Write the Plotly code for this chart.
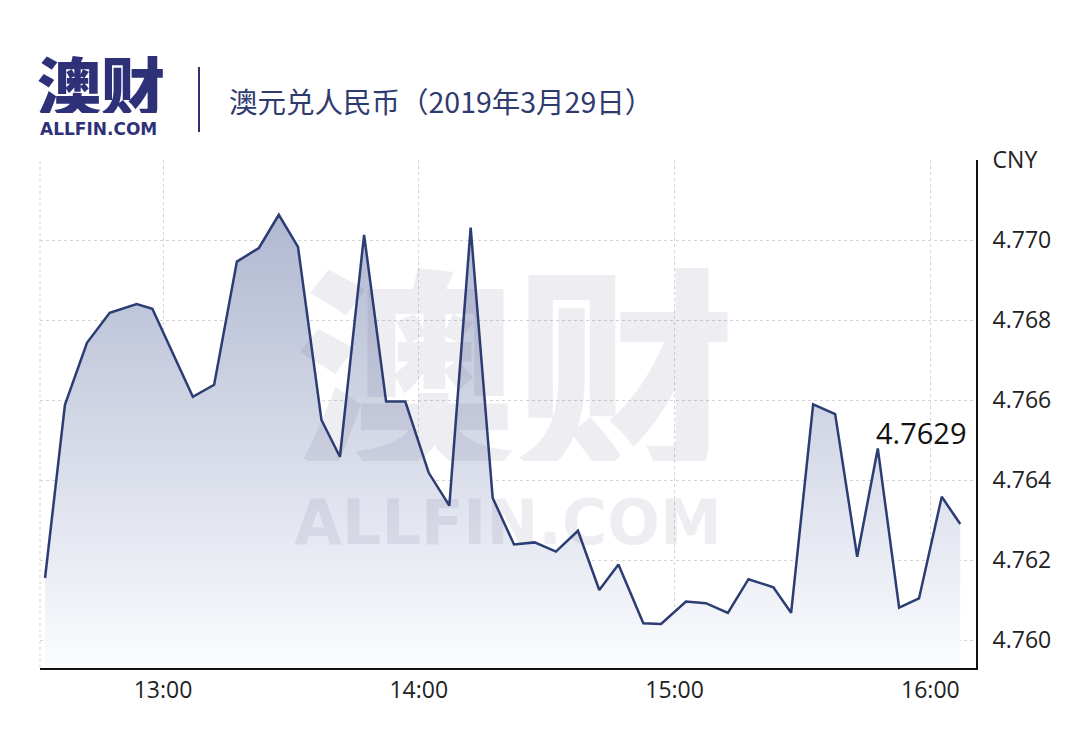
import plotly.graph_objects as go

day = "2019-03-29 "
times = ["12:32:20", "12:37:00", "12:42:10", "12:47:30", "12:53:50", "12:57:30",
         "13:07:00", "13:12:00", "13:17:20", "13:22:30", "13:27:10", "13:31:40",
         "13:37:10", "13:41:30", "13:47:10", "13:52:20", "13:56:50", "14:02:20",
         "14:07:10", "14:12:10", "14:17:20", "14:22:20", "14:27:10", "14:32:10",
         "14:37:20", "14:42:20", "14:46:50", "14:52:40", "14:56:50", "15:02:40",
         "15:07:20", "15:12:30", "15:17:20", "15:23:10", "15:27:20", "15:32:30",
         "15:37:40", "15:42:50", "15:47:40", "15:52:40", "15:57:20", "16:02:40",
         "16:07:00"]
rates = [4.76155, 4.76588, 4.76743, 4.76818, 4.76840, 4.76828,
         4.76608, 4.76638, 4.76946, 4.76980, 4.77063, 4.76983,
         4.76550, 4.76458, 4.77013, 4.76596, 4.76596, 4.76418,
         4.76336, 4.77031, 4.76355, 4.76239, 4.76244, 4.76221,
         4.76273, 4.76125, 4.76189, 4.76042, 4.76040, 4.76096,
         4.76092, 4.76068, 4.76152, 4.76132, 4.76068, 4.76589,
         4.76565, 4.76208, 4.76479, 4.76081, 4.76104, 4.76358,
         4.76290]
x_tick_vals = ["13:00:00", "14:00:00", "15:00:00", "16:00:00"]
x_tick_text = ["13:00", "14:00", "15:00", "16:00"]
y_tick_vals = [4.760, 4.762, 4.764, 4.766, 4.768, 4.770, 4.772]
y_tick_text = ["4.760", "4.762", "4.764", "4.766", "4.768", "4.770", "CNY"]
x_range = ["12:31:09", "16:10:42"]
y_range = [4.7593, 4.7720]
last_label = "4.7629"
title_text = "澳元兑人民币（2019年3月29日）"

x = [day + t for t in times]

fig = go.Figure()
fig.add_trace(go.Scatter(
    x=x, y=rates, mode="lines",
    line=dict(color="#2b3d72", width=2.5),
    fill="tozeroy",
    fillgradient=dict(type="vertical",
                      colorscale=[[0, "rgb(251,252,254)"], [1, "rgb(176,184,209)"]],
                      start=y_range[0], stop=max(rates)),
    hoverinfo="skip", showlegend=False,
))

font_lat = "Open Sans, Noto Sans, sans-serif"
font_cjk = "Noto Sans CJK SC, sans-serif"

fig.update_layout(
    width=1080, height=743,
    margin=dict(l=40, r=104, t=160, b=75),
    paper_bgcolor="white", plot_bgcolor="white",
    xaxis=dict(
        range=[day + x_range[0], day + x_range[1]],
        tickvals=[day + t for t in x_tick_vals], ticktext=x_tick_text,
        showgrid=True, gridcolor="#d4d4d4", griddash="dot", gridwidth=1,
        showline=True, linecolor="#111111", linewidth=2,
        ticks="", tickfont=dict(family=font_lat, size=23, color="#222222"),
        zeroline=False, fixedrange=True,
    ),
    yaxis=dict(
        range=y_range, side="right",
        tickvals=y_tick_vals, ticktext=y_tick_text,
        showgrid=True, gridcolor="#d4d4d4", griddash="dot", gridwidth=1,
        showline=True, linecolor="#111111", linewidth=2,
        ticks="", ticklabelstandoff=10,
        tickfont=dict(family=font_lat, size=23, color="#222222"),
        zeroline=False, fixedrange=True,
    ),
)

# left dotted border grid line
fig.add_shape(type="line", xref="paper", yref="paper", x0=0, x1=0, y0=0, y1=1,
              line=dict(color="#d4d4d4", width=1, dash="dot"), layer="below")

# watermark
fig.add_annotation(text="澳财", xref="paper", yref="paper", x=0.507, y=0.605,
                   showarrow=False, xanchor="center", yanchor="middle", height=200,
                   font=dict(family=font_cjk, size=220, color="rgba(60,50,100,0.085)", weight=900))
fig.add_annotation(text="ALLFIN.COM", xref="paper", yref="paper", x=0.50, y=0.287,
                   showarrow=False, xanchor="center", yanchor="middle", height=50,
                   font=dict(family="DejaVu Sans, sans-serif", size=62,
                             color="rgba(60,50,100,0.085)", weight="bold"))

# last value label
fig.add_annotation(text=last_label, x=x[-1], y=rates[-1], xref="x", yref="y",
                   showarrow=False, xanchor="right", yanchor="middle",
                   xshift=9, yshift=92,
                   font=dict(family=font_lat, size=29, color="#111111"))

# header: logo, divider, title
fig.add_annotation(text="澳财", xref="paper", yref="paper", x=0.065, y=1.152,
                   showarrow=False, xanchor="center", yanchor="middle", height=60,
                   font=dict(family=font_cjk, size=64, color="#2e3178", weight=900))
fig.add_annotation(text="ALLFIN.COM", xref="paper", yref="paper", x=0.062, y=1.062,
                   showarrow=False, xanchor="center", yanchor="middle", height=16,
                   font=dict(family="DejaVu Sans, sans-serif", size=17, color="#2e3178", weight="bold"))
fig.add_shape(type="line", xref="paper", yref="paper", x0=0.1699, x1=0.1699, y0=1.055, y1=1.183,
              line=dict(color="#2e3178", width=2))
fig.add_annotation(text=title_text, xref="paper", yref="paper", x=0.2, y=1.118,
                   showarrow=False, xanchor="left", yanchor="middle",
                   font=dict(family=font_cjk, size=28.5, color="#2f3a6e"))

fig.write_html("out.html", config={"displayModeBar": False},
               post_script="document.body.style.margin='0';document.body.style.overflow='hidden';")
